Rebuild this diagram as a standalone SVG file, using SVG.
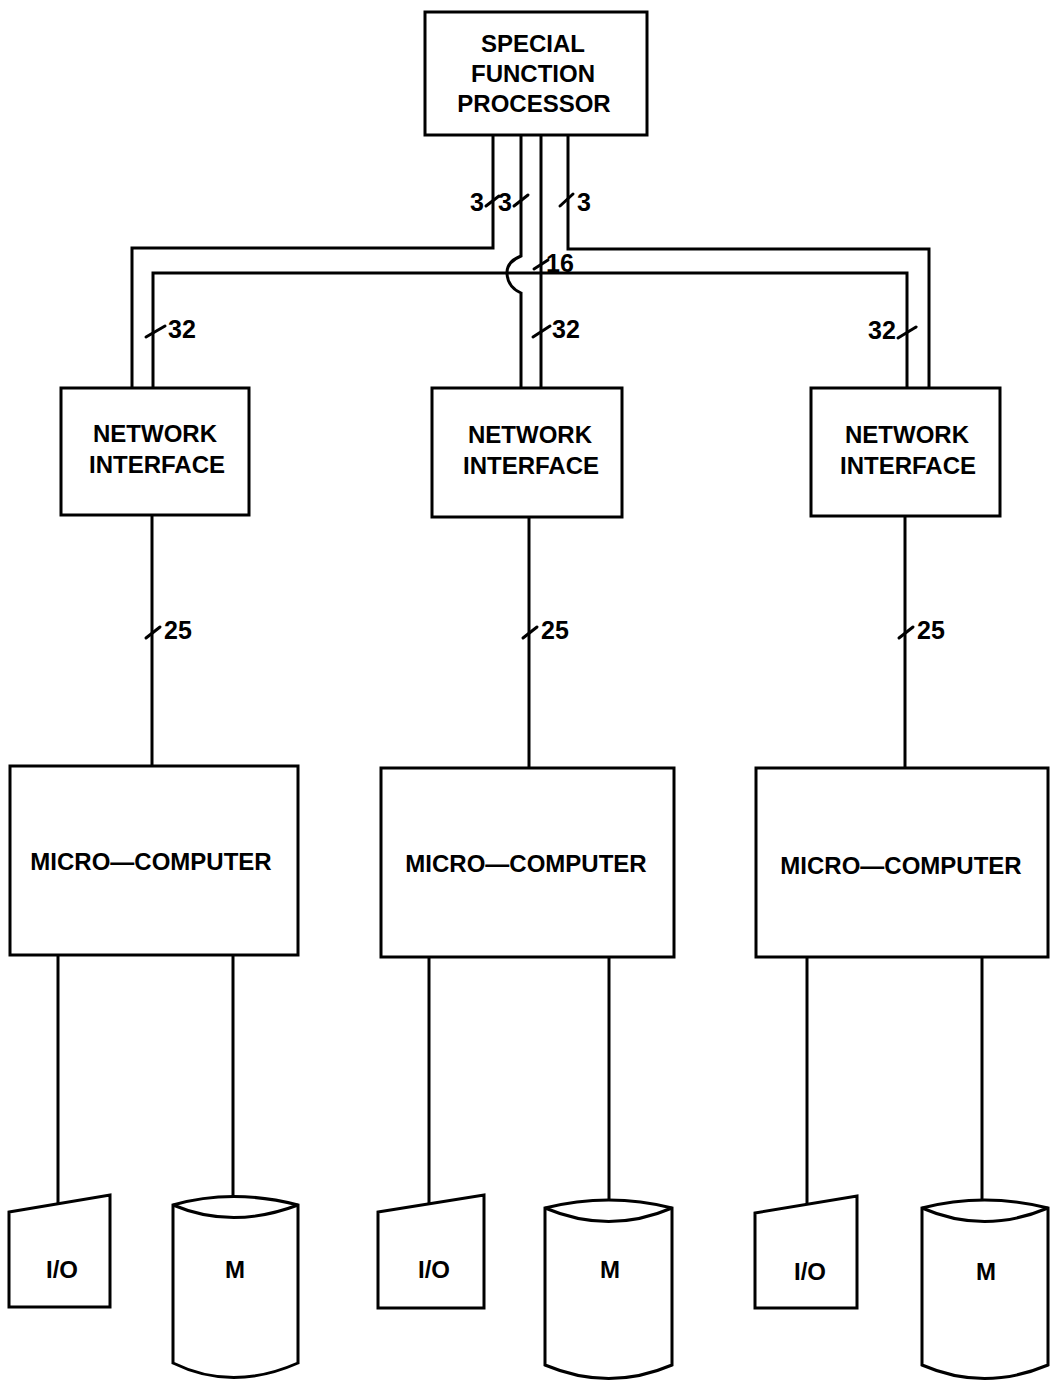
<svg xmlns="http://www.w3.org/2000/svg" width="1052" height="1386" viewBox="0 0 1052 1386">
<style>
.box{fill:#fff;stroke:#000;stroke-width:3}
.ln{fill:none;stroke:#000;stroke-width:3;stroke-linejoin:miter}
.tk{fill:none;stroke:#000;stroke-width:3;stroke-linecap:round}
.t{font-family:"Liberation Sans",Arial,sans-serif;font-weight:bold;font-size:24px;fill:#000;text-anchor:middle}
.n{font-family:"Liberation Sans",Arial,sans-serif;font-weight:bold;font-size:25px;fill:#000}
</style>
<rect width="1052" height="1386" fill="#fff"/>
<g id="connectors">
  <path class="ln" d="M493,135 V248 H132 V388"/>
  <path class="ln" d="M521,135 V256 Q506,262 507,274 Q508,287 521,293 V388"/>
  <path class="ln" d="M541,135 V388"/>
  <path class="ln" d="M568,135 V249 H929 V388"/>
  <path class="ln" d="M153,388 V273 H507"/>
  <path class="ln" d="M541,273 H907 V388"/>
  <path class="ln" d="M541,273 H507"/>
  <path class="tk" d="M486,206 L499,196"/>
  <path class="tk" d="M514,206 L528,195"/>
  <path class="tk" d="M560,206 L573,194"/>
  <path class="tk" d="M534,269 L548,260"/>
  <path class="tk" d="M146,337 L165,326"/>
  <path class="tk" d="M533,337 L550,326"/>
  <path class="tk" d="M898,338 L916,327"/>
  <path class="ln" d="M152,515 V766"/>
  <path class="ln" d="M529,517 V768"/>
  <path class="ln" d="M905,516 V768"/>
  <path class="tk" d="M146,638 L160,627"/>
  <path class="tk" d="M523,638 L537,627"/>
  <path class="tk" d="M899,638 L913,627"/>
  <path class="ln" d="M58,955 V1204"/>
  <path class="ln" d="M233,955 V1198"/>
  <path class="ln" d="M429,957 V1204"/>
  <path class="ln" d="M609,957 V1201"/>
  <path class="ln" d="M807,957 V1205"/>
  <path class="ln" d="M982,957 V1201"/>
  <text class="n" x="470" y="211">3</text>
  <text class="n" x="498" y="211">3</text>
  <text class="n" x="577" y="211">3</text>
  <text class="n" x="546" y="272">16</text>
  <text class="n" x="168" y="338">32</text>
  <text class="n" x="552" y="338">32</text>
  <text class="n" x="868" y="339">32</text>
  <text class="n" x="164" y="639">25</text>
  <text class="n" x="541" y="639">25</text>
  <text class="n" x="917" y="639">25</text>
</g>
<g id="sfp">
  <rect class="box" x="425" y="12" width="222" height="123"/>
  <text class="t" x="533" y="52">SPECIAL</text>
  <text class="t" x="533" y="82">FUNCTION</text>
  <text class="t" x="534" y="112">PROCESSOR</text>
</g>
<g id="ni1">
  <rect class="box" x="61" y="388" width="188" height="127"/>
  <text class="t" x="155" y="442">NETWORK</text>
  <text class="t" x="157" y="473">INTERFACE</text>
</g>
<g id="ni2">
  <rect class="box" x="432" y="388" width="190" height="129"/>
  <text class="t" x="530" y="443">NETWORK</text>
  <text class="t" x="531" y="474">INTERFACE</text>
</g>
<g id="ni3">
  <rect class="box" x="811" y="388" width="189" height="128"/>
  <text class="t" x="907" y="443">NETWORK</text>
  <text class="t" x="908" y="474">INTERFACE</text>
</g>
<g id="mc1">
  <rect class="box" x="10" y="766" width="288" height="189"/>
  <text class="t" x="151" y="870">MICRO—COMPUTER</text>
</g>
<g id="mc2">
  <rect class="box" x="381" y="768" width="293" height="189"/>
  <text class="t" x="526" y="872">MICRO—COMPUTER</text>
</g>
<g id="mc3">
  <rect class="box" x="756" y="768" width="292" height="189"/>
  <text class="t" x="901" y="874">MICRO—COMPUTER</text>
</g>
<g id="io1">
  <path class="box" d="M9,1212 L110,1195 V1307 H9 Z"/>
  <text class="t" x="62" y="1278">I/O</text>
</g>
<g id="m1">
  <path class="box" d="M173,1205 Q232,1188 298,1205 V1363 Q232,1392 173,1363 Z"/>
  <path class="ln" d="M173,1205 Q232,1230 298,1205"/>
  <text class="t" x="235" y="1278">M</text>
</g>
<g id="io2">
  <path class="box" d="M378,1212 L484,1195 V1308 H378 Z"/>
  <text class="t" x="434" y="1278">I/O</text>
</g>
<g id="m2">
  <path class="box" d="M545,1208 Q609,1192 672,1208 V1365 Q609,1392 545,1365 Z"/>
  <path class="ln" d="M545,1208 Q609,1235 672,1208"/>
  <text class="t" x="610" y="1278">M</text>
</g>
<g id="io3">
  <path class="box" d="M755,1213 L857,1196 V1308 H755 Z"/>
  <text class="t" x="810" y="1280">I/O</text>
</g>
<g id="m3">
  <path class="box" d="M922,1208 Q984,1192 1048,1208 V1365 Q984,1392 922,1365 Z"/>
  <path class="ln" d="M922,1208 Q984,1235 1048,1208"/>
  <text class="t" x="986" y="1280">M</text>
</g>
</svg>
